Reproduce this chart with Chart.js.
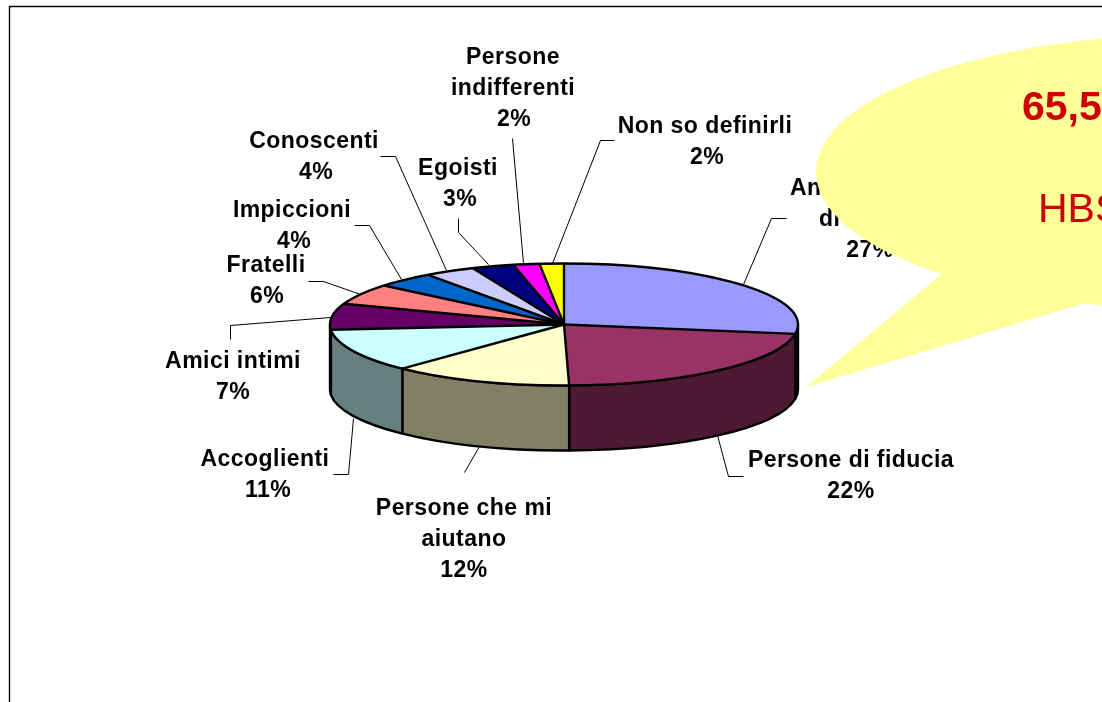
<!DOCTYPE html>
<html>
<head>
<meta charset="utf-8">
<style>html,body{margin:0;padding:0;background:#fff;overflow:hidden}canvas{display:block}</style>
<script src="https://cdn.jsdelivr.net/npm/chart.js@4"></script>
</head>
<body>
<canvas id="c" width="1102" height="702"></canvas>
<script>
const categories = ["An","Persone di fiducia","Persone che mi aiutano","Accoglienti","Amici intimi","Fratelli","Impiccioni","Conoscenti","Egoisti","Persone indifferenti","Non so definirli"];
const values = [27.45,22.2,12.49,11.49,6.9,5.5,4.1,3.5,2.9,1.8,1.67];
const sliceColors = ["#9999FF","#993366","#FFFFCC","#CCFFFF","#660066","#FF8080","#0066CC","#CCCCFF","#000080","#FF00FF","#FFFF00"];
const wallColors = ["#4C4C80","#4D1933","#808066","#668080","#330033","#804040","#003366","#666680","#000040","#800080","#808000"];

const tilt = 0.2607, depth = 65;
const labelBlocks = [
  {i:0, lines:[{t:"An",x:790,y:195,a:"left"},{t:"di",x:819,y:226,a:"left"}], pct:[870,257]},
  {i:1, lines:[{t:"Persone di fiducia",x:851,y:467}], pct:[851,498]},
  {i:2, lines:[{t:"Persone che mi",x:464,y:515},{t:"aiutano",x:464,y:546}], pct:[464,577]},
  {i:3, lines:[{t:"Accoglienti",x:265,y:466}], pct:[268,497]},
  {i:4, lines:[{t:"Amici intimi",x:233,y:368}], pct:[233,399]},
  {i:5, lines:[{t:"Fratelli",x:266,y:272}], pct:[267,303]},
  {i:6, lines:[{t:"Impiccioni",x:292,y:217}], pct:[294,248]},
  {i:7, lines:[{t:"Conoscenti",x:314,y:148}], pct:[316,179]},
  {i:8, lines:[{t:"Egoisti",x:458,y:175}], pct:[460,206]},
  {i:9, lines:[{t:"Persone",x:513,y:64},{t:"indifferenti",x:513,y:95}], pct:[514,126]},
  {i:10,lines:[{t:"Non so definirli",x:705,y:133}], pct:[707,164]}
];
const leaders = [
  [[743,284],[771,218],[786,218]],
  [[717,435],[728,476],[743,476]],
  [[479,446],[464,472]],
  [[353,418],[348,474],[333,474]],
  [[330,317],[230,325],[230,339]],
  [[360,294],[323,281],[308,281]],
  [[401,279],[369,225],[354,225]],
  [[446,270],[395,156],[380,156]],
  [[488,264],[458,232],[458,218]],
  [[523,263],[512,138]],
  [[552,263],[600,140],[614,140]]
];

function ellipseArc(ctx,x,y,r,a,b,ccw){ ctx.ellipse(x,y,r,r*tilt,0,a,b,!!ccw); }

const pie3d = {
  id:"pie3d",
  beforeDatasetsDraw(chart){
    const ctx = chart.ctx, arcs = chart.getDatasetMeta(0).data;
    const {x,y,outerRadius:r} = arcs[0];
    ctx.save();
    ctx.lineWidth = 2.4; ctx.strokeStyle = "#000"; ctx.lineJoin = "round";
    arcs.forEach((el,i)=>{
      const a = Math.max(el.startAngle,0), b = Math.min(el.endAngle,Math.PI);
      if (b<=a) return;
      ctx.beginPath();
      ellipseArc(ctx,x,y,r,a,b);
      ellipseArc(ctx,x,y+depth,r,b,a,true);
      ctx.closePath();
      ctx.fillStyle = wallColors[i];
      ctx.fill(); ctx.stroke();
    });
    ctx.restore();
    ctx.save();
    ctx.translate(x,y); ctx.scale(1,tilt); ctx.translate(-x,-y);
  },
  afterDatasetsDraw(chart){
    const ctx = chart.ctx, arcs = chart.getDatasetMeta(0).data;
    ctx.restore();
    const {x,y,outerRadius:r} = arcs[0];
    ctx.save();
    ctx.strokeStyle = "#000"; ctx.lineWidth = 2.4; ctx.lineJoin = "round";
    ctx.beginPath();
    ellipseArc(ctx,x,y,r,0,Math.PI*2);
    ctx.stroke();
    arcs.forEach(el=>{
      ctx.beginPath();
      ctx.moveTo(x,y);
      ctx.lineTo(x+r*Math.cos(el.startAngle), y+r*tilt*Math.sin(el.startAngle));
      ctx.stroke();
    });
    ctx.lineWidth = 1;
    leaders.forEach(p=>{
      ctx.beginPath();
      p.forEach((q,k)=> k? ctx.lineTo(q[0]+.5,q[1]+.5): ctx.moveTo(q[0]+.5,q[1]+.5));
      ctx.stroke();
    });
    ctx.fillStyle = "#000";
    ctx.font = "bold 23px 'Liberation Sans'";
    ctx.letterSpacing = "0.45px";
    ctx.textBaseline = "alphabetic";
    labelBlocks.forEach(b=>{
      b.lines.forEach(l=>{ ctx.textAlign = l.a||"center"; ctx.fillText(l.t,l.x,l.y); });
      ctx.textAlign = "center";
      ctx.fillText(Math.round(values[b.i])+"%",b.pct[0],b.pct[1]);
    });
    ctx.letterSpacing = "0px";
    // speech bubble
    ctx.fillStyle = "#FFFF99";
    ctx.beginPath();
    ctx.ellipse(1200,172,384,138,0,Math.PI*0.5,Math.PI*1.6);
    ctx.lineTo(1300,100); ctx.lineTo(1300,310); ctx.closePath();
    ctx.fill();
    ctx.beginPath();
    ctx.moveTo(943,273); ctx.lineTo(806,387); ctx.lineTo(1085,303); ctx.lineTo(1200,303); ctx.lineTo(1200,200); ctx.closePath();
    ctx.fill();
    ctx.fillStyle = "#CC0000"; ctx.textAlign = "left";
    ctx.font = "bold 41px 'Liberation Sans'";
    ctx.fillText("65,5",1022,120);
    ctx.font = "41px 'Liberation Sans'";
    ctx.fillText("HBS",1038,222);
    // outer frame
    ctx.strokeStyle = "#000"; ctx.lineWidth = 1.4;
    ctx.beginPath(); ctx.moveTo(9.5,720); ctx.lineTo(9.5,6.5); ctx.lineTo(1110,6.5); ctx.stroke();
    ctx.restore();
  }
};

new Chart(document.getElementById("c"),{
  type:"pie",
  data:{labels:categories,datasets:[{data:values,backgroundColor:sliceColors,borderWidth:0,clip:false}]},
  options:{
    responsive:false,animation:false,events:[],
    layout:{padding:{left:26,right:0,top:90.5,bottom:143.5}},
    plugins:{legend:{display:false},tooltip:{enabled:false},title:{display:false}}
  },
  plugins:[pie3d]
});
</script>
</body>
</html>
